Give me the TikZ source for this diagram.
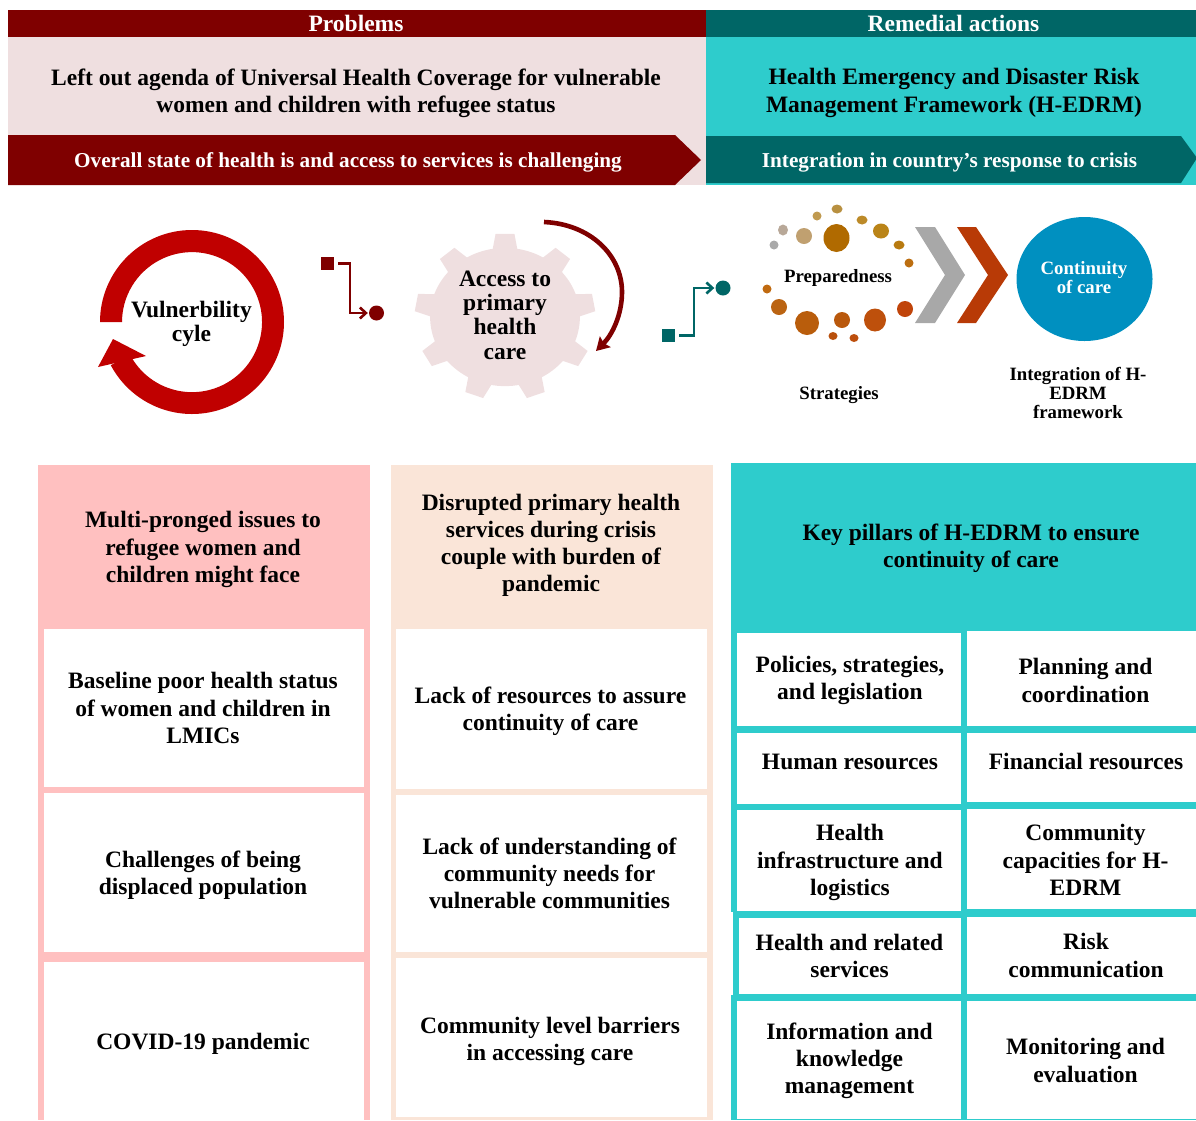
\documentclass[tikz,border=0pt]{standalone}
\usepackage{fontspec}
\setmainfont{Liberation Serif}
\usetikzlibrary{arrows.meta,calc}
\definecolor{dred}{HTML}{7F0000}
\definecolor{dteal}{HTML}{006666}
\definecolor{teal2}{HTML}{2ECCCC}
\definecolor{pale}{HTML}{EFDFE0}
\definecolor{rose}{HTML}{FFC0C0}
\definecolor{peach}{HTML}{FAE5D8}
\definecolor{ringred}{HTML}{C00000}
\definecolor{blue2}{HTML}{0090C0}
\definecolor{chevgray}{HTML}{A8A8A8}
\definecolor{chevorange}{HTML}{B83A06}
\tikzset{
  txt/.style={font=\fontsize{23.5}{27.2}\selectfont\bfseries,align=center,text=black,inner sep=0pt},
  tight/.style={font=\fontsize{23.5}{24.3}\selectfont\bfseries,align=center,text=black,inner sep=0pt},
  head/.style={font=\fontsize{23.5}{27}\selectfont\bfseries,align=center,text=white,inner sep=0pt},
  band/.style={font=\fontsize{21.2}{27}\selectfont\bfseries,align=center,text=white,inner sep=0pt},
  small/.style={font=\fontsize{18.8}{19}\selectfont\bfseries,align=center,text=black,inner sep=0pt},
}
\newcommand{\spot}[5]{\definecolor{spotc}{HTML}{#5}\fill[spotc] (#1,#2) ellipse[x radius=#3,y radius=#4];}
\newcommand{\wbox}[8]{\fill[white] (#2,#3) rectangle (#4,#5); \node[txt] (#1) at (#6,#7) {#8};}
\begin{document}
\begin{tikzpicture}[x=1pt,y=-1pt]
\useasboundingbox (0,0) rectangle (1196,1120);
% top panels
\fill[pale] (8,37) rectangle (706,185);
\fill[teal2] (706,37) rectangle (1196,185);
\fill[dred] (8,10) rectangle (706,37);
\fill[dteal] (706,10) rectangle (1196,37);
\fill[dred] (8,135) -- (675,135) -- (701,160) -- (675,185) -- (8,185) -- cycle;
\fill[dteal] (706,136) -- (1181,136) -- (1197,158) -- (1181,183) -- (706,183) -- cycle;
\node[head] (h1) at (356,23.5) {Problems};
\node[head] (h2) at (953.5,23.5) {Remedial actions};
\node[txt] (t1) at (356,93) {Left out agenda of Universal Health Coverage for vulnerable\\women and children with refugee status};
\node[txt] (t2) at (954,93) {Health Emergency and Disaster Risk\\Management Framework (H-EDRM)};
\node[band] (b1) at (348,162) {Overall state of health is and access to services is challenging};
\node[band] (b2) at (949.5,162) {Integration in country’s response to crisis};
% ring
\fill[ringred] (100,322) arc[start angle=180,end angle=-152,radius=92pt] -- (130.2,355) arc[start angle=-152,end angle=180,radius=70pt] -- cycle;
\fill[ringred] (113,339) -- (146,356) -- (98,367) -- cycle;
\node[tight] (v) at (191.5,324) {Vulnerbility\\cyle};
% connector 1
\node[rectangle,fill=dred,minimum size=13pt,inner sep=0pt] (s1) at (327.5,263.5) {};
\node[circle,fill=dred,minimum size=15pt,inner sep=0pt] (c1) at (376.5,313) {};
\draw[dred,line width=2.6pt,-{Straight Barb[length=6pt,width=11pt]}] ([xshift=4pt]s1.east) -- (350,263.5) -- (350,313) -- ([xshift=-1pt]c1.west);
% gear
\begin{scope}[shift={(505,317)},xscale=1.04,yscale=.96]
\fill[pale] (0,0) circle[radius=72];
\foreach \a in {270,310,350,30,70,110,150,190,230}{
  \fill[pale] (\a-10:70) -- (\a-6:87) -- (\a+6:87) -- (\a+10:70) -- cycle;
}
\end{scope}
\node[tight] (g) at (505,315) {Access to\\primary\\health\\care};
\coordinate (a1) at (544,222);
\coordinate (a2) at (622,292);
\coordinate (a3) at (596,351);
\draw[dred,line width=4.6pt,-{Stealth[length=13pt,width=15pt,inset=2pt]}] (a1) .. controls (590,224) and (622,255) .. (a2) .. controls (622,315) and (612,335) .. (a3);
% connector 2
\node[rectangle,fill=dteal,minimum size=13pt,inner sep=0pt] (s2) at (668.5,335.5) {};
\node[circle,fill=dteal,minimum size=15pt,inner sep=0pt] (c2) at (723,288) {};
\draw[dteal,line width=2.6pt,-{Straight Barb[length=6pt,width=11pt]}] ([xshift=4pt]s2.east) -- (694,335.5) -- (694,288) -- ([xshift=-1pt]c2.west);
% dots
\spot{836.5}{238}{13}{14}{B06A00}
\spot{804}{236}{8}{8}{C0A070}
\spot{783}{230}{5}{5.5}{B8A898}
\spot{774}{245}{4.5}{4.5}{A9A9A9}
\spot{817}{216}{4.5}{4.5}{C09A50}
\spot{837}{209}{5.5}{4.5}{B89040}
\spot{862}{220}{5.5}{4.5}{BC8A28}
\spot{881}{231}{8}{7.5}{BA8418}
\spot{899}{245}{5.5}{4.5}{B87A10}
\spot{909}{263}{4.5}{4.5}{BC6E10}
\spot{767}{289}{4.5}{4.5}{C06A10}
\spot{779}{307}{8}{8}{BB6412}
\spot{807}{323}{12}{12}{B95D0C}
\spot{842}{320}{8}{8}{B9580C}
\spot{833}{336}{4.5}{4}{B9500C}
\spot{854}{338}{4.5}{4}{BD4E0C}
\spot{875}{320}{11}{11.5}{BE500C}
\spot{905}{309}{8}{8}{C0440A}
\node[small] (p) at (838,278) {Preparedness};
% chevrons
\fill[chevgray] (915,227) -- (935,227) -- (965,275) -- (935,323) -- (915,323) -- (945,275) -- cycle;
\fill[chevorange] (957,227) -- (976,227) -- (1008,275) -- (976,323) -- (957,323) -- (988,275) -- cycle;
% blue circle
\fill[blue2] (1084.5,279) ellipse[x radius=68,y radius=62];
\node[small,text=white] (cc) at (1084,278) {Continuity\\of care};
\node[small] (st) at (839,395.5) {Strategies};
\node[small] (in) at (1078,392.5) {Integration of H-\\EDRM\\framework};
% columns
\fill[rose] (38,465) rectangle (370,1120);
\fill[peach] (391,465) rectangle (713,1120);
\fill[teal2] (731,463) rectangle (1196,1120);
\fill[white] (731,912) rectangle (733,995);
\node[txt] (c1h) at (203,549.5) {Multi-pronged issues to\\refugee women and\\children might face};
\node[txt] (c2h) at (551,545.5) {Disrupted primary health\\services during crisis\\couple with burden of\\pandemic};
\node[txt] (c3h) at (971,548.5) {Key pillars of H-EDRM to ensure\\continuity of care};
\wbox{a1b}{44}{629}{364}{787}{203}{708}{Baseline poor health status\\of women and children in\\LMICs}
\wbox{a2b}{44}{793}{364}{952}{203}{875.5}{Challenges of being\\displaced population}
\wbox{a3b}{44}{962}{364}{1120}{203}{1044}{COVID-19 pandemic}
\wbox{b1b}{396}{629}{707}{789}{550.5}{711}{Lack of resources to assure\\continuity of care}
\wbox{b2b}{396}{795}{707}{952}{549.5}{873.5}{Lack of understanding of\\community needs for\\vulnerable communities}
\wbox{b3b}{396}{958}{707}{1117}{550}{1041.5}{Community level barriers\\in accessing care}
\wbox{k1}{737}{633}{961}{726}{850}{680.5}{Policies, strategies,\\and legislation}
\wbox{k2}{967}{631}{1196}{726}{1085.5}{680.5}{Planning and\\coordination}
\wbox{k3}{737}{733}{961}{804}{850}{762}{Human resources}
\wbox{k4}{967}{733}{1196}{802}{1086}{761.5}{Financial resources}
\wbox{k5}{737}{810}{961}{911}{850}{862.5}{Health\\infrastructure and\\logistics}
\wbox{k6}{967}{809}{1196}{909}{1085.5}{860}{Community\\capacities for H-\\EDRM}
\wbox{k7}{739}{918}{961}{994}{849.5}{956}{Health and related\\services}
\wbox{k8}{967}{917}{1196}{994}{1086}{955.5}{Risk\\communication}
\wbox{k9}{737}{1001}{961}{1119}{849.5}{1061}{Information and\\knowledge\\management}
\wbox{k10}{967}{1001}{1196}{1119}{1085.5}{1060.5}{Monitoring and\\evaluation}
\end{tikzpicture}
\end{document}
